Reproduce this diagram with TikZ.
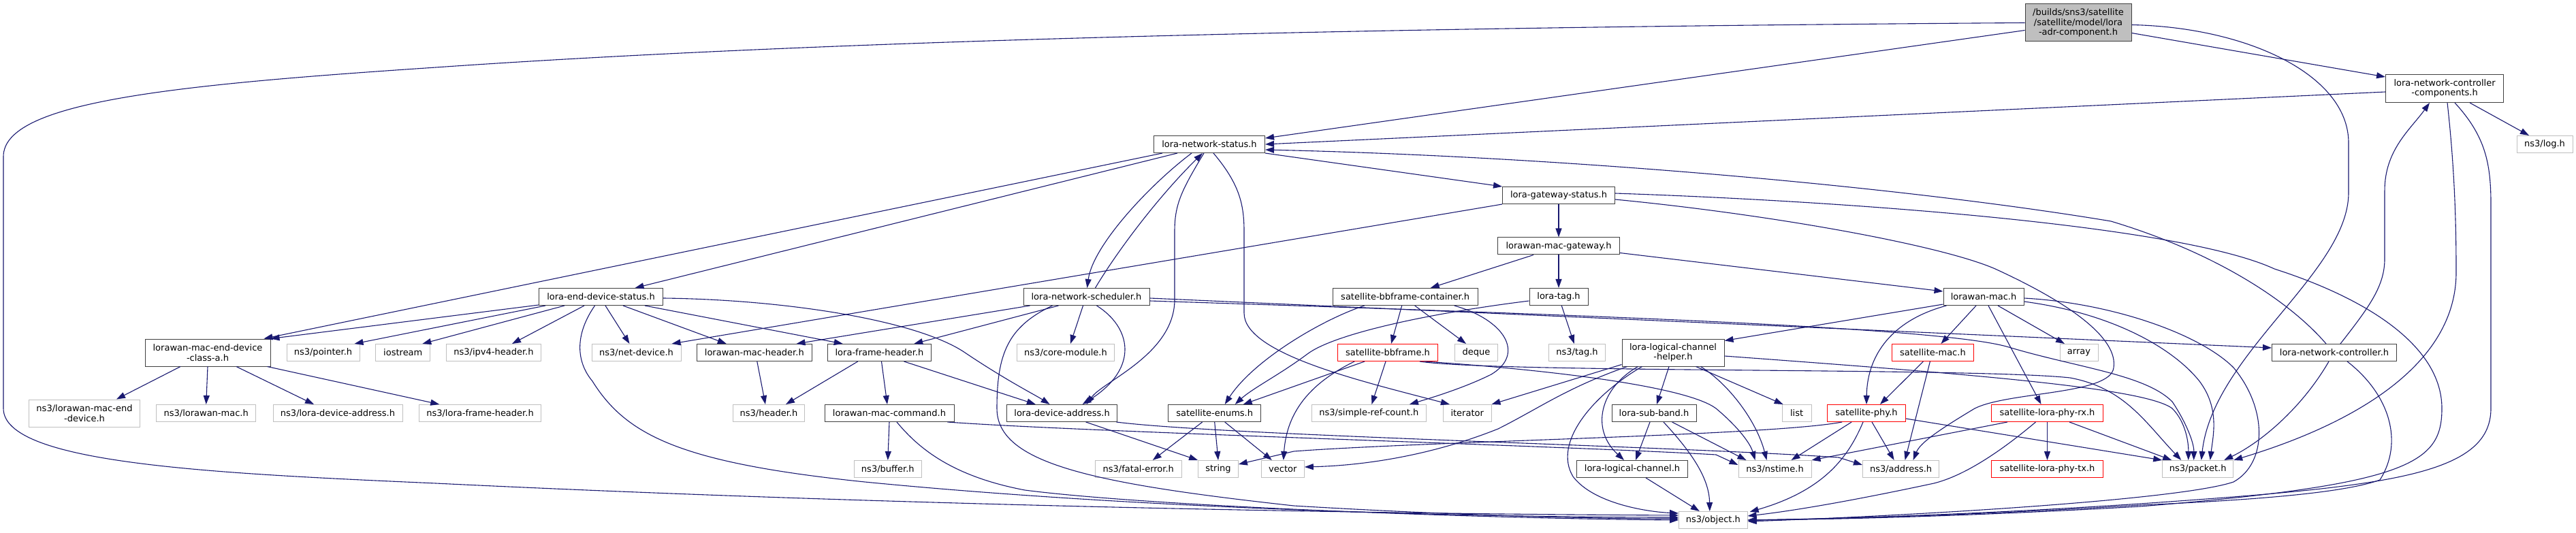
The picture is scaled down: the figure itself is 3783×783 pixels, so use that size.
\documentclass[tikz,border=0pt]{standalone}
\usepackage{fontspec}
\setmainfont{DejaVu Sans}
\usetikzlibrary{arrows.meta,calc}
\definecolor{edgec}{HTML}{191970}
\definecolor{docc}{HTML}{404040}
\definecolor{extc}{HTML}{BFBFBF}
\definecolor{rootc}{HTML}{BFBFBF}
\definecolor{truncc}{HTML}{FF0000}
\tikzset{
  nb/.style={rectangle, inner sep=0pt, minimum height=25pt, line width=1pt, align=center, font=\fontsize{13}{14.7}\selectfont},
  doc/.style={nb, draw=docc},
  ext/.style={nb, draw=extc},
  trunc/.style={nb, draw=truncc},
  rootn/.style={nb, draw=docc, fill=rootc},
  e/.style={draw=edgec, line width=1.1pt, -{Triangle[length=13pt,width=9pt]}}
}
\begin{document}
\begin{tikzpicture}[x=1pt,y=-1pt]
\useasboundingbox (0,0) rectangle (3783,783);
% ---------------- nodes ----------------
\node[rootn, minimum width=156pt, minimum height=55pt] (root) at (3052,33.5) {/builds/sns3/satellite\\/satellite/model/lora\\-adr-component.h};
\node[doc, minimum width=173pt, minimum height=41pt] (lncc) at (3590,130) {lora-network-controller\\-components.h};
\node[doc, minimum width=163pt] (lns) at (1776,212) {lora-network-status.h};
\node[ext, minimum width=82pt] (log) at (3737,212) {ns3/log.h};
\node[doc, minimum width=165pt] (lgs) at (2289,287) {lora-gateway-status.h};
\node[doc, minimum width=179pt] (lmg) at (2289,361.5) {lorawan-mac-gateway.h};
\node[doc, minimum width=182pt] (ledss) at (882.5,436) {lora-end-device-status.h};
\node[doc, minimum width=185pt] (sched) at (1595.5,436) {lora-network-scheduler.h};
\node[doc, minimum width=213pt] (sbc) at (2063.7,436) {satellite-bbframe-container.h};
\node[doc, minimum width=86pt] (ltag) at (2289,436) {lora-tag.h};
\node[doc, minimum width=118pt] (lm) at (2913,436) {lorawan-mac.h};
\node[doc, minimum width=184pt, minimum height=40pt] (classa) at (305,518) {lorawan-mac-end-device\\-class-a.h};
\node[ext, minimum width=107pt] (pointer) at (474.5,518) {ns3/pointer.h};
\node[ext, minimum width=80pt] (iostream) at (591.8,518) {iostream};
\node[ext, minimum width=139pt] (ipv4) at (725,518) {ns3/ipv4-header.h};
\node[ext, minimum width=131pt] (netdev) at (934.5,518) {ns3/net-device.h};
\node[doc, minimum width=168.5pt] (lmh) at (1107.8,518) {lorawan-mac-header.h};
\node[doc, minimum width=152.5pt] (lfh) at (1291.5,518) {lora-frame-header.h};
\node[ext, minimum width=143pt] (core) at (1565,518) {ns3/core-module.h};
\node[trunc, minimum width=147pt] (sbf) at (2038,518) {satellite-bbframe.h};
\node[ext, minimum width=62.5pt] (deque) at (2168,518) {deque};
\node[ext, minimum width=83pt] (tag) at (2316,518) {ns3/tag.h};
\node[doc, minimum width=150pt, minimum height=40pt] (llch) at (2457,518) {lora-logical-channel\\-helper.h};
\node[trunc, minimum width=120pt] (smac) at (2838.4,518) {satellite-mac.h};
\node[ext, minimum width=56pt] (array) at (3053,518) {array};
\node[doc, minimum width=183pt] (lnc) at (3428,518) {lora-network-controller.h};
\node[ext, minimum width=163pt, minimum height=40pt] (nlmed) at (124,607) {ns3/lorawan-mac-end\\-device.h};
\node[ext, minimum width=146.5pt] (nlm) at (302.7,607) {ns3/lorawan-mac.h};
\node[ext, minimum width=190pt] (nlda) at (496,607) {ns3/lora-device-address.h};
\node[ext, minimum width=178.5pt] (nlfh) at (705,607) {ns3/lora-frame-header.h};
\node[ext, minimum width=105pt] (header) at (1129,607) {ns3/header.h};
\node[doc, minimum width=190pt] (lmc) at (1306,607) {lorawan-mac-command.h};
\node[doc, minimum width=162.4pt] (lda) at (1559.6,607) {lora-device-address.h};
\node[doc, minimum width=136.3pt] (se) at (1783.7,607) {satellite-enums.h};
\node[ext, minimum width=168pt] (src) at (2010.4,607) {ns3/simple-ref-count.h};
\node[ext, minimum width=70.6pt] (iter) at (2154.7,607) {iterator};
\node[doc, minimum width=124pt] (lsb) at (2429,607) {lora-sub-band.h};
\node[ext, minimum width=43pt] (list) at (2638.6,607) {list};
\node[trunc, minimum width=114.7pt] (sphy) at (2741,607) {satellite-phy.h};
\node[trunc, minimum width=164pt] (slrx) at (3006.5,607) {satellite-lora-phy-rx.h};
\node[ext, minimum width=98.5pt] (buffer) at (1303.8,689) {ns3/buffer.h};
\node[ext, minimum width=126.5pt] (fatal) at (1671.8,689) {ns3/fatal-error.h};
\node[ext, minimum width=58.8pt] (string) at (1789,689) {string};
\node[ext, minimum width=63pt] (vector) at (1883.8,689) {vector};
\node[doc, minimum width=163pt] (llc) at (2397,689) {lora-logical-channel.h};
\node[ext, minimum width=107pt] (nstime) at (2606.5,689) {ns3/nstime.h};
\node[ext, minimum width=112.3pt] (address) at (2791.6,689) {ns3/address.h};
\node[trunc, minimum width=164pt] (sltx) at (3006.5,689) {satellite-lora-phy-tx.h};
\node[ext, minimum width=104pt] (packet) at (3227.7,689) {ns3/packet.h};
\node[ext, minimum width=100.6pt] (object) at (2515.8,764) {ns3/object.h};
% ---------------- edges ----------------
% root
\draw[e] ($(root.west)+(0,11)$) -- ($(lns.east)+(0,-9)$);
\draw[e] ($(root.east)+(0,15)$) -- ($(lncc.north west)+(0,4)$);
\draw[e] (root.west) .. controls (2000,40) and (1200,60) .. (640,99) .. controls (250,125) and (5,150) .. (5,230) -- (5,600) .. controls (5,680) and (300,695) .. (640,710) .. controls (1300,742) and (2000,755) .. ($(object.west)+(0,-7)$);
\draw[e] ($(root.east)+(0,3)$) .. controls (3300,40) and (3449,110) .. (3449,210) -- (3449,283) .. controls (3449,400) and (3250,520) .. ($(packet.north)+(5,0)$);
% lncc
\draw[e] ($(lncc.west)+(0,5)$) -- (lns.east);
\draw[e] ($(lncc.south)+(37,0)$) -- ($(log.north)+(-23,0)$);
\draw[e] ($(lncc.south)+(4,0)$) .. controls (3605,250) and (3607,330) .. (3607,400) .. controls (3607,560) and (3400,640) .. (packet.north east);
\draw[e] ($(lncc.south)+(15,0)$) .. controls (3650,200) and (3658,240) .. (3658,300) -- (3658,600) .. controls (3658,700) and (3500,715) .. (3143,740) .. controls (2900,756) and (2700,762) .. (object.east);
% lnc
\draw[e] ($(lnc.north)+(-12,0)$) .. controls (3360,440) and (3250,370) .. (3100,325) .. controls (2800,275) and (2300,230) .. ($(lns.east)+(0,8)$);
\draw[e] ($(lnc.north)+(9,0)$) .. controls (3480,450) and (3502,420) .. (3502,380) -- (3502,280) .. controls (3502,220) and (3540,190) .. ($(lncc.south)+(-22,0)$);
\draw[e] ($(lnc.south)+(-8,0)$) .. controls (3380,600) and (3320,650) .. ($(packet.north east)+(-14,0)$);
\draw[e] ($(lnc.south)+(19,0)$) .. controls (3510,580) and (3530,650) .. (3495,705) .. controls (3440,725) and (3300,735) .. (3143,742) .. controls (2900,757) and (2700,762) .. (object.east);
% lns
\draw[e] ($(lns.south west)+(13,0)$) -- ($(classa.north east)+(-10,0)$);
\draw[e] ($(lns.south west)+(35,0)$) -- ($(ledss.north)+(50,0)$);
\draw[e] (lns.south east) -- (lgs.north west);
\draw[e] ($(lns.south)+(-26,0)$) .. controls (1690,270) and (1605,360) .. ($(sched.north)+(1,0)$);
\draw[e] ($(sched.north)+(13,0)$) .. controls (1640,370) and (1700,290) .. ($(lns.south)+(-10,0)$);
\draw[e] ($(lns.south)+(6,0)$) .. controls (1820,270) and (1827,300) .. (1827,340) -- (1827,460) .. controls (1827,520) and (2000,560) .. ($(iter.north west)+(10,0)$);
\draw[e] ($(lns.south)+(-8,0)$) .. controls (1735,280) and (1725,300) .. (1725,340) -- (1725,440) .. controls (1725,520) and (1620,560) .. ($(lda.north)+(36,0)$);
% lgs
\draw[e] (lgs) -- (lmg);
\draw[e] (lgs.south west) -- ($(netdev.north east)+(-14,0)$);
\draw[e] ($(lgs.east)+(0,-3)$) .. controls (2700,295) and (3200,330) .. (3340,395) .. controls (3480,440) and (3586,510) .. (3586,600) .. controls (3586,680) and (3540,712) .. (3143,744) .. controls (2900,758) and (2700,763) .. (object.east);
\draw[e] ($(lgs.east)+(0,6)$) .. controls (2600,315) and (2850,360) .. (2930,395) .. controls (3050,450) and (3110,500) .. (3104,540) .. controls (3100,580) and (2950,575) .. (2900,600) .. controls (2850,630) and (2820,650) .. ($(address.north)+(18,0)$);
% lmg
\draw[e] ($(lmg.east)+(0,10)$) -- ($(lm.west)+(0,-8)$);
\draw[e] ($(lmg.south)+(-37,0)$) -- ($(sbc.north)+(37,0)$);
\draw[e] (lmg) -- (ltag);
% ledss
\draw[e] ($(ledss.south west)+(0,-1)$) -- (classa.north east);
\draw[e] ($(ledss.south west)+(10,0)$) -- ($(pointer.north east)+(-8,0)$);
\draw[e] ($(ledss.south west)+(38,0)$) -- ($(iostream.north east)+(-12,0)$);
\draw[e] ($(ledss.south west)+(67,0)$) -- ($(ipv4.north)+(27,0)$);
\draw[e] ($(ledss.south west)+(98,0)$) -- ($(netdev.north)+(-10,0)$);
\draw[e] ($(ledss.south west)+(124,0)$) -- ($(lmh.north)+(-41,0)$);
\draw[e] ($(ledss.south east)+(-27,0)$) -- ($(lfh.north west)+(23,0)$);
\draw[e] ($(ledss.east)+(0,2)$) .. controls (1150,440) and (1350,470) .. (1420,520) .. controls (1480,560) and (1520,580) .. ($(lda.north)+(-18,0)$);
\draw[e] ($(ledss.south)+(-9,0)$) .. controls (845,490) and (845,530) .. (870,560) .. controls (920,640) and (1000,680) .. (1270,708) .. controls (1700,750) and (2200,760) .. ($(object.west)+(0,-4)$);
% class-a
\draw[e] ($(classa.south)+(-40,0)$) -- ($(nlmed.north)+(47,0)$);
\draw[e] (classa.south) -- (nlm.north);
\draw[e] ($(classa.south)+(42,0)$) -- ($(nlda.north)+(-35,0)$);
\draw[e] ($(classa.south east)+(-5,0)$) -- ($(nlfh.north west)+(30,0)$);
% scheduler
\draw[e] ($(sched.south west)+(10,0)$) -- ($(lmh.north east)+(-23,0)$);
\draw[e] ($(sched.south)+(-41,0)$) -- ($(lfh.north east)+(-26,0)$);
\draw[e] ($(sched.south)+(-50,0)$) .. controls (1480,480) and (1464,520) .. (1464,600) .. controls (1464,680) and (1600,710) .. (1900,743) .. controls (2150,758) and (2350,762) .. ($(object.west)+(0,-2)$);
\draw[e] ($(sched.south)+(-5,0)$) -- ($(core.north)+(7,0)$);
\draw[e] ($(sched.south)+(15,0)$) .. controls (1660,480) and (1675,540) .. ($(lda.north)+(30,0)$);
\draw[e] ($(sched.east)+(0,2)$) -- ($(lnc.west)+(0,-7)$);
\draw[e] ($(sched.east)+(0,6)$) .. controls (2300,462) and (2850,480) .. (2950,510) .. controls (3050,540) and (3150,550) .. (3190,590) .. controls (3210,620) and (3222,650) .. ($(packet.north)+(-6,0)$);
% lora-frame-header, lorawan-mac-header
\draw[e] ($(lfh.south west)+(45,0)$) -- ($(header.north east)+(-28,0)$);
\draw[e] ($(lfh.south)+(3,0)$) -- ($(lmc.north)+(-3,0)$);
\draw[e] ($(lfh.south)+(36,0)$) -- ($(lda.north west)+(43,0)$);
\draw[e] ($(lmh.south)+(4,0)$) -- ($(header.north)+(-5,0)$);
% lorawan-mac-command
\draw[e] (lmc.south) -- (buffer.north);
\draw[e] ($(lmc.south)+(11,0)$) .. controls (1350,660) and (1400,700) .. (1505,720) .. controls (1700,745) and (2200,762) .. (object.west);
\draw[e] ($(lmc.south east)+(-10,0)$) .. controls (1600,635) and (2300,655) .. (2520,668) -- ($(nstime.west)+(0,-6)$);
% lora-device-address
\draw[e] ($(lda.south)+(35,0)$) -- (string.north west);
\draw[e] ($(lda.south east)+(-2,0)$) .. controls (1800,640) and (2450,655) .. (2700,672) -- ($(address.west)+(0,-6)$);
% satellite-enums
\draw[e] ($(se.south)+(-18,0)$) -- ($(fatal.north)+(21,0)$);
\draw[e] (se.south) -- (string.north);
\draw[e] ($(se.south)+(15,0)$) -- ($(vector.north west)+(16,0)$);
\draw[e] ($(sbc.south west)+(47,0)$) .. controls (1940,470) and (1840,530) .. ($(se.north)+(15,0)$);
\draw[e] ($(ltag.west)+(0,6)$) .. controls (2100,460) and (1960,490) .. (1920,520) .. controls (1880,550) and (1840,570) .. ($(se.north)+(30,0)$);
\draw[e] ($(sbf.south)+(-34,0)$) -- ($(se.north)+(42,0)$);
% bbframe container / bbframe
\draw[e] ($(sbc.south)+(-5,0)$) -- ($(sbf.north)+(5,0)$);
\draw[e] ($(sbc.south)+(14,0)$) -- ($(deque.north)+(-15,0)$);
\draw[e] ($(sbc.south east)+(-35,0)$) .. controls (2210,470) and (2240,520) .. (2190,550) .. controls (2150,570) and (2100,585) .. ($(src.north east)+(-25,0)$);
\draw[e] ($(sbf.south)+(-3,0)$) -- ($(src.north)+(4,0)$);
\draw[e] ($(sbf.south west)+(25,0)$) .. controls (1930,560) and (1890,600) .. ($(vector.north)+(1,0)$);
\draw[e] ($(sbf.south east)+(-27,0)$) .. controls (2200,548) and (2900,540) .. (3040,555) .. controls (3120,570) and (3150,620) .. ($(packet.north west)+(28,0)$);
\draw[e] ($(sbf.south east)+(-20,0)$) .. controls (2300,545) and (2480,570) .. (2520,600) .. controls (2550,625) and (2570,650) .. ($(nstime.north west)+(25,0)$);
% lora-tag
\draw[e] (ltag) -- (tag);
% lorawan-mac
\draw[e] ($(lm.south west)+(0,-2)$) -- ($(llch.north east)+(0,3)$);
\draw[e] ($(lm.south west)+(5,0)$) .. controls (2780,470) and (2742,520) .. (sphy.north);
\draw[e] ($(lm.south)+(-11,0)$) -- ($(smac.north)+(12,0)$);
\draw[e] ($(lm.south)+(7,0)$) -- ($(slrx.north)+(-9,0)$);
\draw[e] ($(lm.south)+(21,0)$) -- ($(array.north)+(-21,0)$);
\draw[e] ($(lm.east)+(0,2)$) .. controls (3100,445) and (3230,490) .. (3280,540) .. controls (3330,600) and (3330,680) .. (3280,708) .. controls (3200,735) and (2800,758) .. ($(object.east)+(0,2)$);
\draw[e] ($(lm.east)+(0,7)$) .. controls (3100,460) and (3190,510) .. (3230,560) .. controls (3260,600) and (3250,640) .. ($(packet.north)+(18,0)$);
% satellite-mac
\draw[e] ($(smac.south)+(-14,0)$) -- ($(sphy.north)+(20,0)$);
\draw[e] ($(smac.south)+(-4,0)$) -- ($(address.north)+(6,0)$);
% satellite-phy
\draw[e] ($(sphy.south west)+(22,0)$) .. controls (2600,640) and (2100,648) .. (1900,663) -- ($(string.east)+(0,-7)$);
\draw[e] ($(sphy.south west)+(36,0)$) -- ($(nstime.north)+(24,0)$);
\draw[e] ($(sphy.south)+(-5,0)$) .. controls (2715,670) and (2680,720) .. ($(object.north east)+(3,1)$);
\draw[e] ($(sphy.south)+(8,0)$) -- ($(address.north)+(-10,0)$);
\draw[e] ($(sphy.south east)+(0,-5)$) -- (packet.north west);
% satellite-lora-phy-rx
\draw[e] ($(slrx.south west)+(24,0)$) -- (nstime.north east);
\draw[e] ($(slrx.south)+(-17,0)$) .. controls (2930,670) and (2880,700) .. (2840,710) .. controls (2700,740) and (2620,752) .. ($(object.east)+(0,-6)$);
\draw[e] (slrx) -- (sltx);
\draw[e] ($(slrx.south east)+(-50,0)$) -- ($(packet.north west)+(14,0)$);
% lora-logical-channel-helper
\draw[e] ($(llch.south west)+(0,-3)$) -- (iter.north east);
\draw[e] ($(llch.south west)+(8,0)$) .. controls (2300,570) and (2260,600) .. (2200,630) .. controls (2100,670) and (2000,684) .. ($(vector.east)+(0,-3)$);
\draw[e] ($(llch.south west)+(30,0)$) .. controls (2340,580) and (2280,650) .. (2310,700) .. controls (2340,740) and (2420,752) .. ($(object.west)+(0,-10)$);
\draw[e] ($(llch.south west)+(24,0)$) .. controls (2350,570) and (2335,630) .. ($(llc.north)+(-12,0)$);
\draw[e] ($(llch.south)+(-6,0)$) -- ($(lsb.north)+(4,0)$);
\draw[e] ($(llch.south east)+(-42,0)$) -- ($(list.north west)+(2,0)$);
\draw[e] ($(llch.south east)+(-35,0)$) .. controls (2540,565) and (2580,620) .. ($(nstime.north)+(-12,0)$);
\draw[e] ($(llch.east)+(0,5)$) .. controls (2900,550) and (3150,570) .. (3190,600) .. controls (3210,620) and (3214,650) .. ($(packet.north)+(-14,0)$);
% lora-sub-band, lora-logical-channel
\draw[e] ($(lsb.south)+(-6,0)$) -- ($(llc.north)+(5,0)$);
\draw[e] ($(lsb.south)+(14,0)$) .. controls (2480,660) and (2510,700) .. ($(object.north)+(-5,0)$);
\draw[e] ($(lsb.south east)+(-36,0)$) -- ($(nstime.north west)+(12,0)$);
\draw[e] ($(llc.south)+(20,0)$) -- ($(object.north)+(-20,0)$);
\end{tikzpicture}
\end{document}
